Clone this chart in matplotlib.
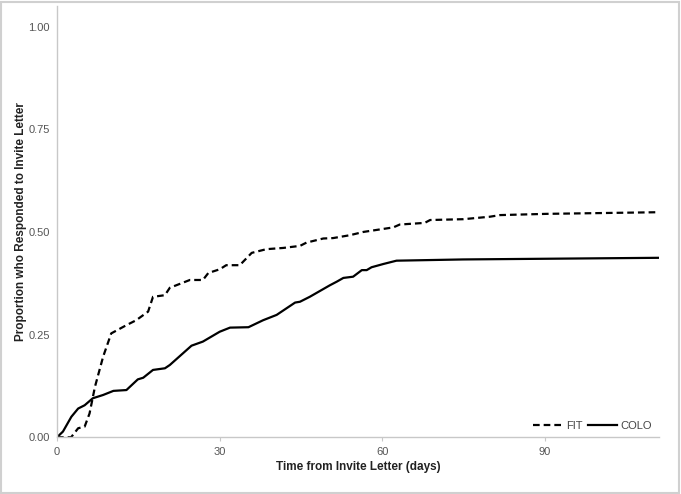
import matplotlib
matplotlib.use('Agg')
import matplotlib.pyplot as plt
from matplotlib.patches import Rectangle

plt.rcParams['font.family'] = ['Liberation Sans', 'DejaVu Sans']

# FIT (dashed) - days / cumulative proportion
fit_days = [0, 2.6, 3.9, 5.1, 6.0, 7.0, 8.5, 10.0, 12.8, 14.6, 16.8, 17.7, 19.9, 20.8,
            24.5, 26.9, 27.9, 30.0, 31.2, 33.7, 35.9, 38.6, 41.7, 44.8, 46.0, 49.1,
            50.9, 54.0, 56.5, 59.5, 62.0, 63.2, 67.8, 68.8, 74.9, 79.8, 81.7, 90.3, 111]
fit_prop = [0, 0, 0.022, 0.026, 0.058, 0.123, 0.196, 0.253, 0.273, 0.285, 0.306, 0.342,
            0.346, 0.364, 0.383, 0.383, 0.400, 0.409, 0.419, 0.419, 0.449, 0.458, 0.461,
            0.466, 0.474, 0.484, 0.485, 0.492, 0.500, 0.506, 0.511, 0.518, 0.522, 0.529,
            0.531, 0.537, 0.541, 0.544, 0.548]

# COLO (solid)
colo_days = [0, 1.1, 2.65, 3.9, 5.1, 6.6, 8.5, 10.4, 12.8, 14.9, 15.9, 17.7, 19.9, 20.8,
             24.8, 26.9, 30.0, 31.9, 35.3, 38.0, 40.5, 43.9, 44.8, 46.6, 50.3, 51.6,
             52.8, 54.6, 56.2, 57.1, 58.0, 60.2, 62.6, 74.9, 111]
colo_prop = [0, 0.014, 0.050, 0.070, 0.078, 0.095, 0.103, 0.113, 0.115, 0.141, 0.145,
             0.164, 0.168, 0.176, 0.223, 0.233, 0.257, 0.267, 0.268, 0.285, 0.298, 0.328,
             0.330, 0.342, 0.370, 0.379, 0.388, 0.391, 0.407, 0.407, 0.414, 0.422, 0.430,
             0.433, 0.437]

x_ticks = [0, 30, 60, 90]
y_ticks = [0, 0.25, 0.5, 0.75, 1.0]
y_tick_labels = ['0.00', '0.25', '0.50', '0.75', '1.00']

fig = plt.figure(figsize=(6.81, 4.94), dpi=100)
ax = fig.add_axes([0.0837, 0.1148, 0.884, 0.873])

ax.plot(fit_days, fit_prop, color='black', lw=1.6, linestyle=(0, (3, 1.8)), label='FIT')
ax.plot(colo_days, colo_prop, color='black', lw=1.6, label='COLO')

ax.set_xlim(0, 111)
ax.set_ylim(0, 1.05)
ax.set_xticks(x_ticks)
ax.set_yticks(y_ticks)
ax.set_yticklabels(y_tick_labels)

for side in ['top', 'right']:
    ax.spines[side].set_visible(False)
for side in ['left', 'bottom']:
    ax.spines[side].set_color('#c8c8c8')
    ax.spines[side].set_linewidth(1.0)

ax.tick_params(axis='x', length=3, color='#c8c8c8', labelsize=8, labelcolor='#555555', pad=4)
ax.tick_params(axis='y', length=0, labelsize=8, labelcolor='#555555', pad=5)

ax.set_xlabel('Time from Invite Letter (days)', fontsize=8.5, fontweight='bold', color='#222222', labelpad=3)
ax.set_ylabel('Proportion who Responded to Invite Letter', fontsize=8.5, fontweight='bold', color='#222222', labelpad=1)

ax.legend(loc='lower right', bbox_to_anchor=(1.004, -0.008), ncol=2, frameon=False, fontsize=8,
          handlelength=2.6, columnspacing=0.5, handletextpad=0.3, labelcolor='#444444')

# light border around the whole picture
fig.patches.append(Rectangle((0.002, 0.003), 0.995, 0.993, transform=fig.transFigure,
                             fill=False, edgecolor='#d0d0d0', lw=1.5))

fig.savefig('out.png', dpi=100)
plt.close(fig)
